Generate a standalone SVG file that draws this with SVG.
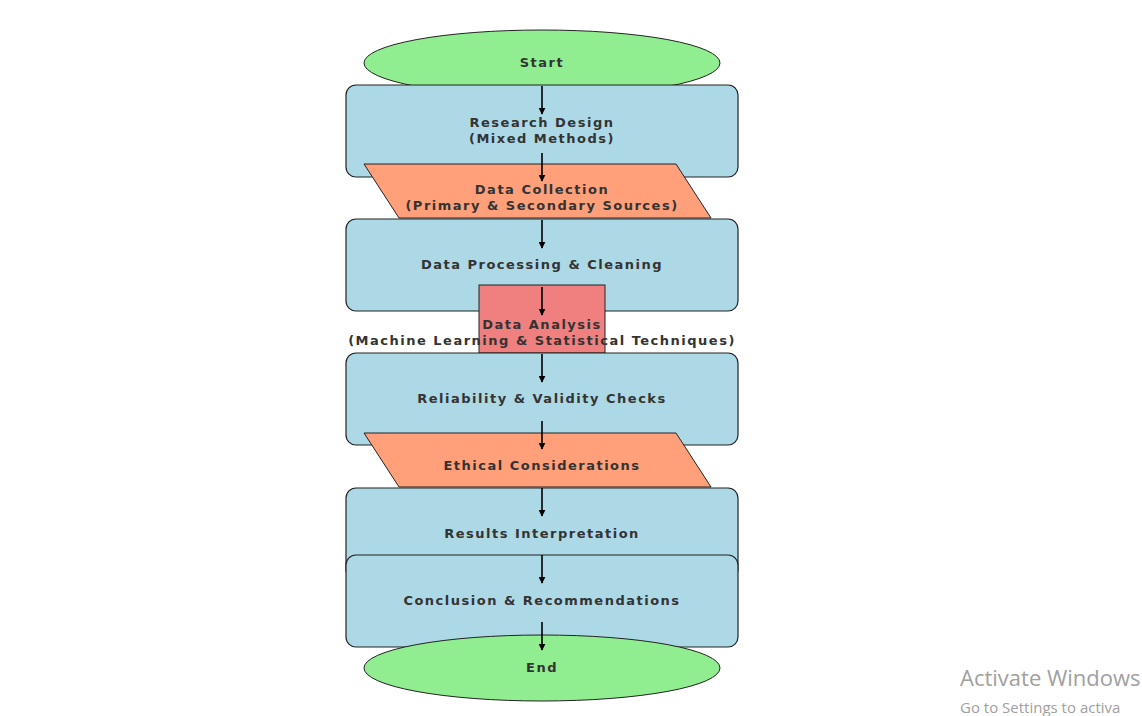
<svg xmlns="http://www.w3.org/2000/svg" width="1142" height="716" viewBox="0 0 1142 716">
<style>
.b{fill:#add8e6;stroke:#222;stroke-width:1.2}
.p{fill:#ffa07a;stroke:#222;stroke-width:1}
.e{fill:#90ee90;stroke:#222;stroke-width:1}
.t{font-family:"DejaVu Sans",sans-serif;font-weight:bold;font-size:13px;letter-spacing:1.5px;fill:#333;text-anchor:middle}
.c line{stroke:#000;stroke-width:1.6;marker-end:url(#a)}
.w{font-family:"Segoe UI","Open Sans",sans-serif;fill:#a0a0a0}
</style>
<defs><marker id="a" viewBox="0 0 10 10" refX="9" refY="5" markerWidth="7" markerHeight="7" orient="auto" markerUnits="userSpaceOnUse"><path d="M0,0L10,5L0,10z" fill="#000"/></marker></defs>
<rect width="1142" height="716" fill="#fff"/>
<g id="start"><ellipse class="e" cx="542" cy="63" rx="178" ry="33"/><text class="t" x="542" y="67">Start</text></g>
<g id="design"><rect class="b" x="346" y="85" width="392" height="92" rx="10"/><text class="t" x="542" y="127">Research Design</text><text class="t" x="542" y="143">(Mixed Methods)</text></g>
<g id="collection"><polygon class="p" points="364,164 676,164 711,218 399,218"/><text class="t" x="542" y="194">Data Collection</text><text class="t" x="542" y="210">(Primary &amp; Secondary Sources)</text></g>
<g id="processing"><rect class="b" x="346" y="219" width="392" height="92" rx="10"/><text class="t" x="542" y="269">Data Processing &amp; Cleaning</text></g>
<g id="analysis"><rect x="479" y="285" width="126" height="68" fill="#f08080" stroke="#222"/><text class="t" x="542" y="329">Data Analysis</text><text class="t" x="542" y="345">(Machine Learning &amp; Statistical Techniques)</text></g>
<g id="reliability"><rect class="b" x="346" y="353" width="392" height="92" rx="10"/><text class="t" x="542" y="403">Reliability &amp; Validity Checks</text></g>
<g id="ethics"><polygon class="p" points="364,433 676,433 711,487 399,487"/><text class="t" x="542" y="470">Ethical Considerations</text></g>
<g id="results"><rect class="b" x="346" y="488" width="392" height="92" rx="10"/><text class="t" x="542" y="538">Results Interpretation</text></g>
<g id="conclusion"><rect class="b" x="346" y="555" width="392" height="92" rx="10"/><text class="t" x="542" y="605">Conclusion &amp; Recommendations</text></g>
<g id="end"><ellipse class="e" cx="542" cy="668" rx="178" ry="33"/><text class="t" x="542" y="672">End</text></g>
<g class="c" id="connectors">
<line x1="542" y1="86" x2="542" y2="114"/>
<line x1="542" y1="153" x2="542" y2="181"/>
<line x1="542" y1="220" x2="542" y2="248"/>
<line x1="542" y1="287" x2="542" y2="315"/>
<line x1="542" y1="354" x2="542" y2="382"/>
<line x1="542" y1="421" x2="542" y2="449"/>
<line x1="542" y1="488" x2="542" y2="516"/>
<line x1="542" y1="555" x2="542" y2="583"/>
<line x1="542" y1="622" x2="542" y2="650"/>
</g>
<text class="w" x="960" y="686" font-size="22">Activate Windows</text>
<text class="w" x="960" y="713" font-size="15">Go to Settings to activa</text>
</svg>
